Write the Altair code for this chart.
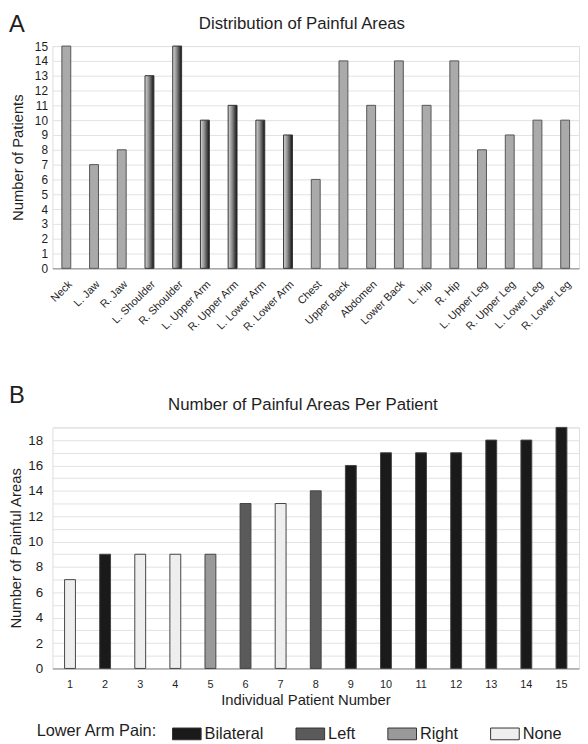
import altair as alt
import pandas as pd

# ---- Panel A data ----
areas = ["Neck", "L. Jaw", "R. Jaw", "L. Shoulder", "R. Shoulder", "L. Upper Arm",
         "R. Upper Arm", "L. Lower Arm", "R. Lower Arm", "Chest", "Upper Back",
         "Abdomen", "Lower Back", "L. Hip", "R. Hip", "L. Upper Leg", "R. Upper Leg",
         "L. Lower Leg", "R. Lower Leg"]
area_patients = [15, 7, 8, 13, 15, 10, 11, 10, 9, 6, 14, 11, 14, 11, 14, 8, 9, 10, 10]
upper_limb = [False, False, False, True, True, True, True, True, True, False, False,
              False, False, False, False, False, False, False, False]

# ---- Panel B data ----
patients = list(range(1, 16))
painful_areas = [7, 9, 9, 9, 9, 13, 13, 14, 16, 17, 17, 17, 18, 18, 19]
lower_arm_pain = ["None", "Bilateral", "None", "None", "Right", "Left", "None", "Left",
                  "Bilateral", "Bilateral", "Bilateral", "Bilateral", "Bilateral",
                  "Bilateral", "Bilateral"]
pain_levels = ["Bilateral", "Left", "Right", "None"]
pain_colors = ["#1a1a1a", "#5a5a5a", "#999999", "#eeeeee"]

FONT = "Liberation Sans"
INK = "#1e1e1e"

dfA = pd.DataFrame({"area": areas, "count": area_patients, "limb": upper_limb})
dfB = pd.DataFrame({"patient": patients, "n": painful_areas, "pain": lower_arm_pain})

W = 533

baseA = alt.Chart(dfA).encode(
    x=alt.X("area:N", sort=areas, title=None,
            axis=alt.Axis(labelAngle=-45, labelFontSize=11, ticks=False, grid=False,
                          domainColor="#888", labelPadding=10, labelColor=INK)),
    y=alt.Y("count:Q", title="Number of Patients",
            scale=alt.Scale(domain=[0, 15], nice=False),
            axis=alt.Axis(values=list(range(16)), ticks=False, domain=False,
                          labelFontSize=12, labelPadding=5, titleFontSize=15,
                          titlePadding=9, gridColor="#e2e2e2", labelColor=INK,
                          titleColor=INK, titleFontWeight="normal")),
)
lightA = baseA.transform_filter("!datum.limb").mark_bar(
    size=9, color="#aaaaaa", stroke="#555555", strokeWidth=1)
darkA = baseA.transform_filter("datum.limb").mark_bar(
    size=9, stroke="#333333", strokeWidth=1,
    color=alt.Gradient(gradient="linear", x1=0, x2=1, y1=0, y2=0,
                       stops=[alt.GradientStop(color="#d8d8d8", offset=0),
                              alt.GradientStop(color="#8a8a8a", offset=0.45),
                              alt.GradientStop(color="#111111", offset=1)]))
letterA = alt.Chart(alt.Data(values=[{"t": "A"}])).mark_text(
    fontSize=24, font=FONT, align="left", baseline="alphabetic", color=INK
).encode(x=alt.value(-44), y=alt.value(-14), text="t:N")

chartA = alt.layer(lightA, darkA, letterA).properties(
    width=W, height=225,
    title=alt.TitleParams("Distribution of Painful Areas", fontSize=17,
                          fontWeight="normal", color=INK, offset=-20,
                          frame="group", dx=-14))

# ---- Panel B ----
barsB = alt.Chart(dfB).mark_bar(size=11, stroke="#444444", strokeWidth=1).encode(
    x=alt.X("patient:O", title="Individual Patient Number",
            axis=alt.Axis(labelAngle=0, labelFontSize=11, ticks=False, grid=False,
                          domainColor="#888", labelPadding=10, titleFontSize=15,
                          titleFontWeight="normal", titleX=256, titleY=37,
                          titleBaseline="alphabetic",
                          labelColor=INK, titleColor=INK)),
    y=alt.Y("n:Q", title="Number of Painful Areas",
            scale=alt.Scale(domain=[0, 19], nice=False),
            axis=alt.Axis(values=list(range(20)), ticks=False, domain=False,
                          labelExpr="datum.value % 2 == 0 ? datum.label : ''",
                          labelFontSize=13.5, labelPadding=10, titleFontSize=15,
                          titlePadding=4, gridColor="#e2e2e2", labelColor=INK,
                          titleColor=INK, titleFontWeight="normal")),
    color=alt.Color("pain:N", scale=alt.Scale(domain=pain_levels, range=pain_colors),
                    legend=alt.Legend(title="Lower Arm Pain:", orient="none",
                                      legendX=-16, legendY=295, padding=0,
                                      direction="horizontal", titleOrient="left",
                                      titleFontSize=16.5, titleFontWeight="normal",
                                      titleColor=INK, labelFontSize=16.5,
                                      labelColor=INK, titlePadding=15,
                                      symbolType="M-1,-0.41H1V0.41H-1Z",
                                      symbolSize=841, symbolStrokeColor="#333",
                                      symbolStrokeWidth=1, symbolOpacity=1,
                                      labelOffset=3, columnPadding=30)),
)
letterB = alt.Chart(alt.Data(values=[{"t": "B"}])).mark_text(
    fontSize=24, font=FONT, align="left", baseline="alphabetic", color=INK
).encode(x=alt.value(-44), y=alt.value(-25), text="t:N")

chartB = alt.layer(barsB, letterB).properties(
    width=W, height=244,
    title=alt.TitleParams("Number of Painful Areas Per Patient", fontSize=17,
                          fontWeight="normal", color=INK, offset=-30,
                          frame="group", dx=-13))

chart = alt.vconcat(chartA, chartB, spacing=50).resolve_legend(
    color="independent").configure_view(stroke=None).configure(font=FONT, padding=0)

chart.save("out.html", embed_options={"renderer": "svg", "actions": False})
